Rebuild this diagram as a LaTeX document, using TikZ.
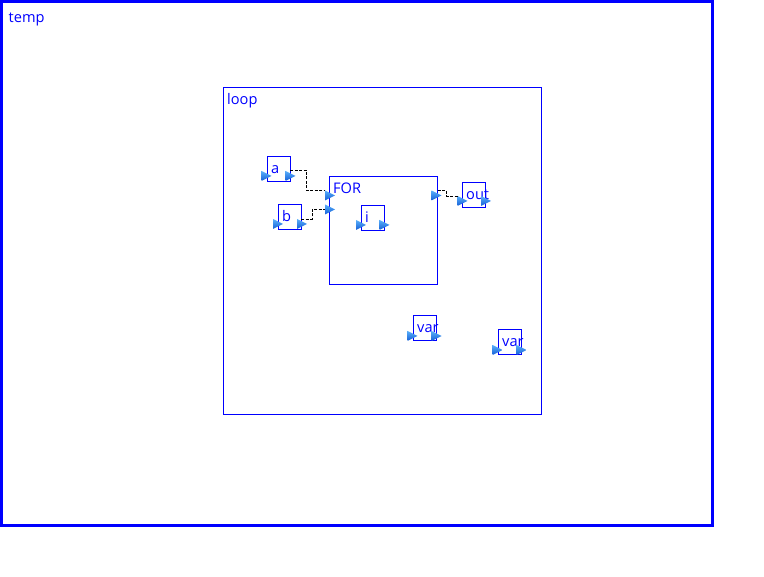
\documentclass[tikz,border=0pt]{standalone}
\usepackage{fontspec}
\setmainfont{Open Sans}
\definecolor{porttop}{RGB}{90,175,250}
\definecolor{portbot}{RGB}{20,95,215}
\tikzset{
  lbl/.style={anchor=base west, inner sep=0pt, text=blue, xshift=4pt, yshift=-18pt,
    font=\fontsize{14.6}{16}\selectfont},
  block/.style={draw=blue, line width=0.9pt, inner sep=0pt, outer sep=0pt, anchor=north west},
  port/.style={minimum width=10pt, minimum height=10pt, inner sep=0pt, outer sep=0pt,
    path picture={\shade[top color=porttop, bottom color=portbot]
      (path picture bounding box.north west) -- (path picture bounding box.east)
      -- (path picture bounding box.south west) -- cycle;}},
  wire/.style={draw=black, line width=0.7pt, dash pattern=on 3pt off 1.5pt}
}
\begin{document}
\begin{tikzpicture}[x=1pt,y=-1pt]
\useasboundingbox (0,0) rectangle (764,577);

% containers
\node[block, line width=3pt, minimum width=711pt, minimum height=524pt,
  label={[lbl, xshift=3pt, yshift=-3pt]north west:temp}] (temp) at (1.5,1.5) {};
\node[block, minimum width=318pt, minimum height=327pt,
  label={[lbl]north west:loop}] (loop) at (223,87) {};
\node[block, minimum width=108.5pt, minimum height=108pt,
  label={[lbl]north west:FOR}] (for) at (329,176) {};

% blocks
\node[block, minimum width=23pt, minimum height=25pt, label={[lbl]north west:a}] (a) at (267,156) {};
\node[block, minimum width=23pt, minimum height=25pt, label={[lbl]north west:b}] (b) at (278,204) {};
\node[block, minimum width=23pt, minimum height=25pt, label={[lbl]north west:i}] (i) at (361,205) {};
\node[block, minimum width=23pt, minimum height=25pt, label={[lbl]north west:out}] (out) at (462,182) {};
\node[block, minimum width=23.5pt, minimum height=25.5pt, label={[lbl]north west:var}] (var1) at (413,315) {};
\node[block, minimum width=23.5pt, minimum height=25.5pt, label={[lbl]north west:var}] (var2) at (498,329) {};

% ports
\node[port] (ain) at (266.5,176) {};
\node[port] (aout) at (290.5,176) {};
\node[port] (bin) at (278,224) {};
\node[port] (bout) at (302,224) {};
\node[port] (forin1) at (330,195.5) {};
\node[port] (forin2) at (330,209.5) {};
\node[port] (forout) at (436.5,195.5) {};
\node[port] (iin) at (361,225) {};
\node[port] (iout) at (384.5,225) {};
\node[port] (outin) at (462.5,201) {};
\node[port] (outout) at (486,201) {};
\node[port] (varin1) at (412.5,336) {};
\node[port] (varout1) at (436.5,336) {};
\node[port] (varin2) at (497.5,350) {};
\node[port] (varout2) at (521.5,350) {};

% wires
\draw[wire] ([yshift=1pt]a.east |- aout.north) -- ++(16,0) |- (forin1.north west);
\draw[wire] (b.east |- bout.north) -- ++(11,0) |- (forin2.west);
\draw[wire] (for.east |- forout.north) -- ++(8.5,0) |- (outin.north west);
\end{tikzpicture}
\end{document}
